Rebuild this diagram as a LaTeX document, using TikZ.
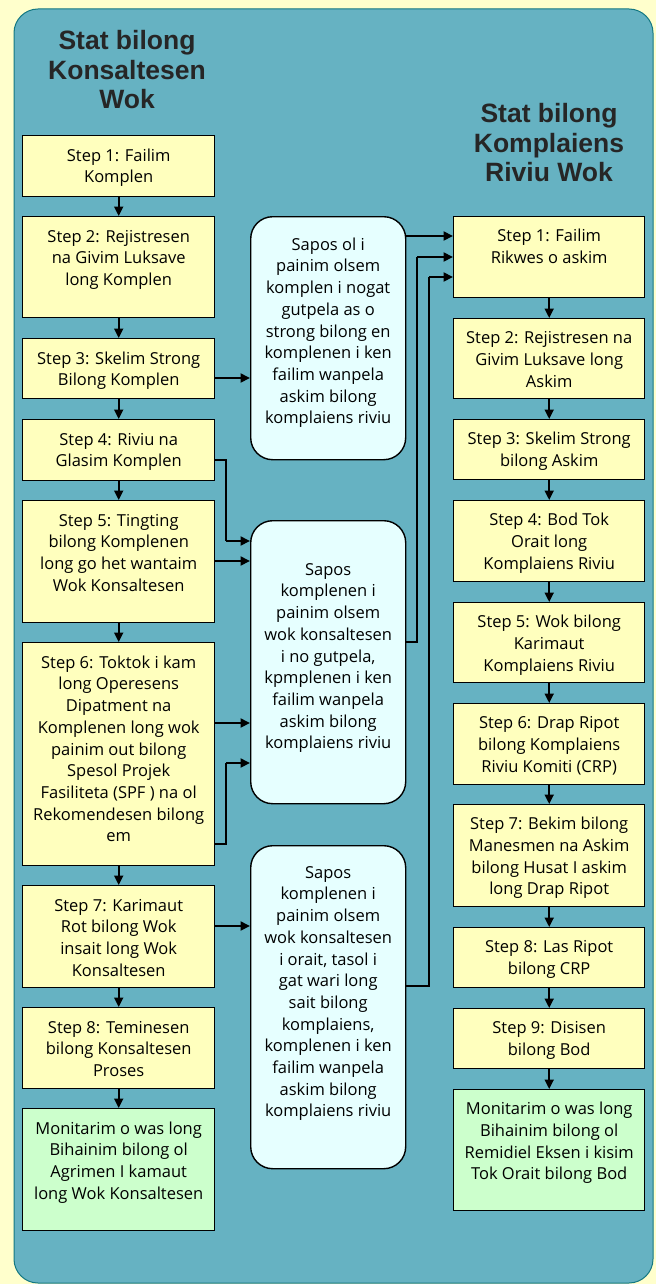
\documentclass[tikz,border=0pt]{standalone}
\usepackage{fontspec}
\setmainfont{Open Sans}
\newfontfamily\headfont{Liberation Sans}
\usepackage{tikz}
\usetikzlibrary{arrows.meta}
\definecolor{pagebg}{RGB}{255,255,204}
\definecolor{panelteal}{RGB}{102,178,194}
\definecolor{paneledge}{RGB}{20,120,130}
\definecolor{stepyellow}{RGB}{255,255,190}
\definecolor{endgreen}{RGB}{204,255,204}
\definecolor{notecyan}{RGB}{230,255,255}
\newcommand{\boxtext}[4]{\parbox[c][#2pt][t]{#1pt}{\centering\rule{0pt}{#3pt}#4}}
\tikzset{stepbox/.style = {draw, fill=stepyellow, line width=1.4pt, inner sep=0pt,
                           anchor=north west, font=\fontsize{16.5}{21.7}\selectfont},
         endbox/.style = {stepbox, fill=endgreen},
         notebox/.style = {stepbox, fill=notecyan, rounded corners=22pt},
         heading/.style = {align=center, inner sep=0pt, anchor=north, text=black!85,
                           font=\headfont\bfseries\fontsize{26.5}{29.5}\selectfont},
         flow/.style = {-{Triangle[length=9.5pt, width=9pt]}, line width=2pt},
         link/.style = {line width=1.3pt}}

\begin{document}
\begin{tikzpicture}[x=1pt, y=-1pt]
    \useasboundingbox (0, 0) rectangle (656, 1284);
    \fill [pagebg] (0, 0) rectangle (656, 1284);
    \draw [paneledge, fill=panelteal, rounded corners=24pt, line width=1pt] (14, 9) rectangle (653, 1283);

    \node [heading] (lefthead) at (127, 30.5) {Stat bilong\\Konsaltesen\\Wok};
    \node [heading] (righthead) at (549, 103.5) {Stat bilong\\Komplaiens\\Riviu Wok};

    \node [stepbox] (l1) at (22, 135) {\boxtext{192}{61}{25.5}{Step 1: Failim\\Komplen}};
    \node [stepbox] (l2) at (22, 216) {\boxtext{192}{101}{25.5}{Step 2: Rejistresen\\na Givim Luksave\\long Komplen}};
    \node [stepbox] (l3) at (22, 338) {\boxtext{192}{60}{25.5}{Step 3: Skelim Strong\\Bilong Komplen}};
    \node [stepbox] (l4) at (22, 419) {\boxtext{192}{61}{25.5}{Step 4: Riviu na\\Glasim Komplen}};
    \node [stepbox] (l5) at (22, 500) {\boxtext{192}{122}{25.5}{Step 5: Tingting\\bilong Komplenen\\long go het wantaim\\Wok Konsaltesen}};
    \node [stepbox] (l6) at (22, 642) {\boxtext{192}{223}{25.5}{Step 6: Toktok i kam\\long Operesens\\Dipatment na\\Komplenen long wok\\painim out bilong\\Spesol Projek\\Fasiliteta (SPF ) na ol\\Rekomendesen bilong\\em}};
    \node [stepbox] (l7) at (22, 885) {\boxtext{192}{102}{25.5}{Step 7: Karimaut\\Rot bilong Wok\\insait long Wok\\Konsaltesen}};
    \node [stepbox] (l8) at (22, 1007) {\boxtext{192}{81}{25.5}{Step 8: Teminesen\\bilong Konsaltesen\\Proses}};
    \node [endbox] (lend) at (22, 1108) {\boxtext{192}{122}{25.5}{Monitarim o was long\\Bihainim bilong ol\\Agrimen I kamaut\\long Wok Konsaltesen}};

    \node [notebox] (nota) at (250, 216) {\boxtext{155}{243}{33.5}{Sapos ol i\\painim olsem\\komplen i nogat\\gutpela as o\\strong bilong en\\komplenen i ken\\failim wanpela\\askim bilong\\komplaiens riviu}};
    \node [notebox] (notb) at (250, 520) {\boxtext{155}{283}{54.5}{Sapos\\komplenen i\\painim olsem\\wok konsaltesen\\i no gutpela,\\kpmplenen i ken\\failim wanpela\\askim bilong\\komplaiens riviu}};
    \node [notebox] (notc) at (250, 845) {\boxtext{155}{323}{32.5}{Sapos\\komplenen i\\painim olsem\\wok konsaltesen\\i orait, tasol i\\gat wari long\\sait bilong\\komplaiens,\\komplenen i ken\\failim wanpela\\askim bilong\\komplaiens riviu}};

    \node [stepbox] (r1) at (453, 216) {\boxtext{191}{81}{25}{Step 1: Failim\\Rikwes o askim}};
    \node [stepbox] (r2) at (453, 318) {\boxtext{191}{80}{25}{Step 2: Rejistresen na\\Givim Luksave long\\Askim}};
    \node [stepbox] (r3) at (453, 419) {\boxtext{191}{60}{25}{Step 3: Skelim Strong\\bilong Askim}};
    \node [stepbox] (r4) at (453, 500) {\boxtext{191}{81}{25}{Step 4: Bod Tok\\Orait long\\Komplaiens Riviu}};
    \node [stepbox] (r5) at (453, 602) {\boxtext{191}{80}{25}{Step 5: Wok bilong\\Karimaut\\Komplaiens Riviu}};
    \node [stepbox] (r6) at (453, 703) {\boxtext{191}{81}{25}{Step 6: Drap Ripot\\bilong Komplaiens\\Riviu Komiti (CRP)}};
    \node [stepbox] (r7) at (453, 804) {\boxtext{191}{102}{25}{Step 7: Bekim bilong\\Manesmen na Askim\\bilong Husat I askim\\long Drap Ripot}};
    \node [stepbox] (r8) at (453, 927) {\boxtext{191}{60}{25}{Step 8: Las Ripot\\bilong CRP}};
    \node [stepbox] (r9) at (453, 1008) {\boxtext{191}{60}{25}{Step 9: Disisen\\bilong Bod}};
    \node [endbox] (rend) at (453, 1089) {\boxtext{191}{121}{25}{Monitarim o was long\\Bihainim bilong ol\\Remidiel Eksen i kisim\\Tok Orait bilong Bod}};

    \foreach \a/\b in {l1/l2, l2/l3, l3/l4, l4/l5, l5/l6, l6/l7, l7/l8, l8/lend,
                       r1/r2, r2/r3, r3/r4, r4/r5, r5/r6, r6/r7, r7/r8, r8/r9, r9/rend}
      \draw [flow] (\a.south) -- (\b.north);

    \coordinate (bendl) at (226, 0);
    \coordinate (bendb) at (417, 0);
    \coordinate (bendc) at (429, 0);

    \draw [flow] (l3.east |- 0, 378) -- (nota.west |- 0, 378);
    \draw [flow] (nota.east |- 0, 236) -- (r1.west |- 0, 236);

    \draw [link] (l4.east |- 0, 460) -| (bendl |- 0, 541);
    \draw [flow] (bendl |- 0, 541) -- (notb.west |- 0, 541);
    \draw [flow] (l5.east |- 0, 561) -- (notb.west |- 0, 561);
    \draw [flow] (l6.east |- 0, 723) -- (notb.west |- 0, 723);
    \draw [link] (l6.east |- 0, 844) -| (bendl |- 0, 763);
    \draw [flow] (bendl |- 0, 763) -- (notb.west |- 0, 763);

    \draw [link] (notb.east |- 0, 642) -| (bendb |- 0, 257);
    \draw [flow] (bendb |- 0, 257) -- (r1.west |- 0, 257);
    \draw [link] (notc.east |- 0, 986) -| (bendc |- 0, 277);
    \draw [flow] (bendc |- 0, 277) -- (r1.west |- 0, 277);

    \draw [flow] (l7.east |- 0, 926) -- (notc.west |- 0, 926);
  \end{tikzpicture}
\end{document}
